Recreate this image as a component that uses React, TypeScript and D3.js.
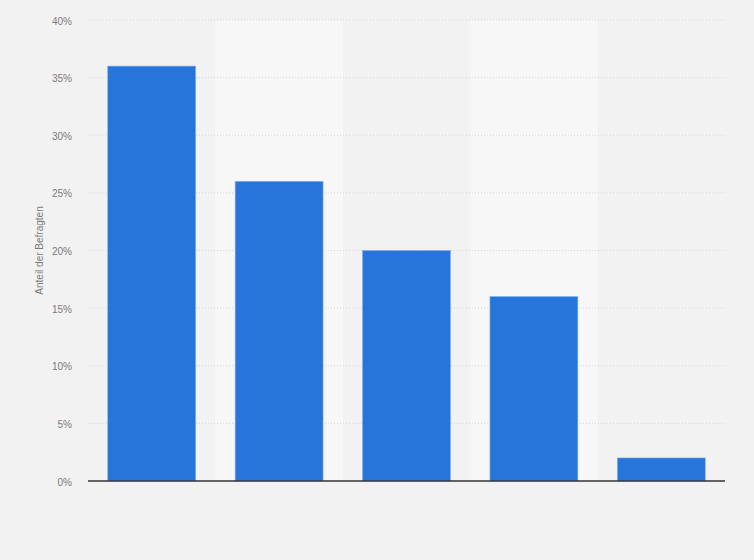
import { useEffect, useRef } from 'react';
import * as d3 from 'd3';

const categories = ['A', 'B', 'C', 'D', 'E'];
const values = [36, 26, 20, 16, 2];
const yTicks = [0, 5, 10, 15, 20, 25, 30, 35, 40];
const yLabel = 'Anteil der Befragten';

const width = 754;
const height = 560;
const margin = { top: 20, right: 29, bottom: 79, left: 88 };

export default function App() {
  const svgRef = useRef<SVGSVGElement>(null);

  useEffect(() => {
    if (!svgRef.current) return;
    const svg = d3.select(svgRef.current);
    svg.selectAll('*').remove();

    const innerW = width - margin.left - margin.right;
    const innerH = height - margin.top - margin.bottom;

    svg.append('rect').attr('width', width).attr('height', height).attr('fill', '#f2f2f2');

    const g = svg.append('g').attr('transform', `translate(${margin.left},${margin.top})`);

    const x = d3.scaleBand<string>().domain(categories).range([0, innerW]).paddingInner(0.31).paddingOuter(0.155);
    const bands = d3.scaleBand<string>().domain(categories).range([0, innerW]);
    const y = d3.scaleLinear().domain([0, 40]).range([innerH, 0]);

    // alternating column shading
    g.selectAll('rect.band')
      .data(categories.filter((_, i) => i % 2 === 1))
      .enter()
      .append('rect')
      .attr('class', 'band')
      .attr('x', d => bands(d)!)
      .attr('y', 0)
      .attr('width', bands.bandwidth())
      .attr('height', innerH)
      .attr('fill', '#f7f7f7');

    // gridlines
    g.selectAll('line.grid')
      .data(yTicks.filter(t => t > 0))
      .enter()
      .append('line')
      .attr('class', 'grid')
      .attr('x1', 0)
      .attr('x2', innerW)
      .attr('y1', d => y(d))
      .attr('y2', d => y(d))
      .attr('stroke', '#d6d6d6')
      .attr('stroke-width', 1)
      .attr('stroke-dasharray', '1,2');

    // tick labels
    g.selectAll('text.tick')
      .data(yTicks)
      .enter()
      .append('text')
      .attr('class', 'tick')
      .attr('x', -16)
      .attr('y', d => y(d) + 1)
      .attr('dy', '0.35em')
      .attr('text-anchor', 'end')
      .attr('font-family', 'Arial, "Liberation Sans", sans-serif')
      .attr('font-size', 10)
      .attr('fill', '#7a7a7a')
      .text(d => `${d}%`);

    // bars
    g.selectAll('rect.bar')
      .data(values)
      .enter()
      .append('rect')
      .attr('class', 'bar')
      .attr('x', (_, i) => x(categories[i])!)
      .attr('y', d => y(d))
      .attr('width', x.bandwidth())
      .attr('height', d => innerH - y(d))
      .attr('fill', '#2775db')
      .attr('stroke', '#7fb0ef')
      .attr('stroke-width', 0.6);

    // baseline
    g.append('line')
      .attr('x1', 0)
      .attr('x2', innerW)
      .attr('y1', innerH)
      .attr('y2', innerH)
      .attr('stroke', '#333')
      .attr('stroke-width', 1.3);

    // y axis title
    svg.append('text')
      .attr('transform', `translate(43,${margin.top + innerH / 2}) rotate(-90)`)
      .attr('text-anchor', 'middle')
      .attr('font-family', 'Arial, "Liberation Sans", sans-serif')
      .attr('font-size', 10)
      .attr('fill', '#7a7a7a')
      .text(yLabel);
  }, []);

  return (
    <div style={{ width, height }}>
      <svg ref={svgRef} width={width} height={height} style={{ display: 'block', position: 'absolute', left: 0, top: 0 }}></svg>
    </div>
  );
}
